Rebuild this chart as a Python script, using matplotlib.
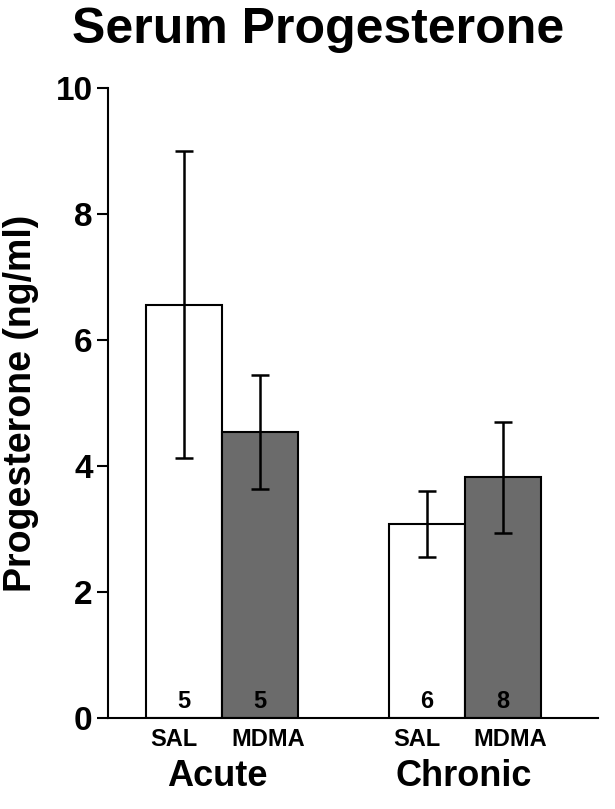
import matplotlib
matplotlib.use("Agg")
import matplotlib.pyplot as plt
import matplotlib.transforms as mtransforms
import numpy as np

plt.rcParams['font.family'] = ['Liberation Sans', 'DejaVu Sans']
plt.rcParams['font.weight'] = 'bold'

groups = ['Acute', 'Chronic']
treatments = ['SAL', 'MDMA', 'SAL', 'MDMA']
means = [6.56, 4.54, 3.08, 3.82]
errors = [2.44, 0.90, 0.53, 0.88]
counts = ['5', '5', '6', '8']
colors = ['white', '#6b6b6b', 'white', '#6b6b6b']
positions = [0, 1, 3.2, 4.2]

fig = plt.figure(figsize=(6.15, 8.09), dpi=100)
ax = fig.add_axes([0.1756, 0.1125, 0.7964, 0.7787])

ax.bar(positions, means, width=1.0, color=colors, edgecolor='black',
       linewidth=1.5, zorder=2)
ax.errorbar(positions, means, yerr=errors, fmt='none', ecolor='black',
            elinewidth=1.8, capsize=6.5, capthick=1.8, zorder=3)

for p, n in zip(positions, counts):
    ax.text(p, 0.26, n, ha='center', va='center', fontsize=17,
            fontweight='bold')

ax.set_xlim(-1.0, 5.45)
ax.set_ylim(0, 10)
ax.set_yticks([0, 2, 4, 6, 8, 10])
ax.tick_params(axis='y', direction='out', length=8, width=1.5,
               labelsize=24, pad=3)
ax.set_xticks(positions)
ax.set_xticklabels(treatments, fontsize=17, fontweight='bold')
ax.tick_params(axis='x', length=0, pad=7)
for lbl in ax.get_yticklabels():
    lbl.set_fontweight('bold')

# SAL / MDMA labels sit a little apart from the bar centres
shifts = [-10, 8, -10, 7]
for lbl, dx in zip(ax.get_xticklabels(), shifts):
    lbl.set_transform(lbl.get_transform() +
                      mtransforms.ScaledTranslation(dx / 100, 0, fig.dpi_scale_trans))

ax.spines['top'].set_visible(False)
ax.spines['right'].set_visible(False)
ax.spines['left'].set_linewidth(1.5)
ax.spines['bottom'].set_linewidth(1.5)

group_shift = [-5, -1]
for i, g in enumerate(groups):
    c = (positions[2 * i] + positions[2 * i + 1]) / 2
    t = ax.text(c, -0.93, g, ha='center', va='center', fontsize=26,
                fontweight='bold', clip_on=False)
    t.set_transform(ax.transData +
                    mtransforms.ScaledTranslation(group_shift[i] / 100, 0, fig.dpi_scale_trans))

ax.set_ylabel('Progesterone (ng/ml)', fontsize=27, fontweight='bold')
ax.yaxis.set_label_coords(-0.14, 0.5)
fig.text(0.517, 0.963, 'Serum Progesterone', ha='center', va='center',
         fontsize=36, fontweight='bold')

fig.savefig('out.png', dpi=100)
